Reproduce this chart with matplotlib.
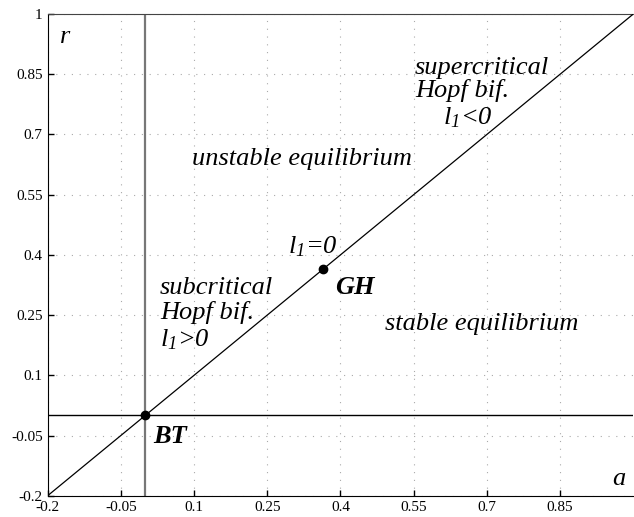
import matplotlib
matplotlib.use('Agg')
import matplotlib.pyplot as plt

plt.rcParams['font.family'] = 'Liberation Serif'
plt.rcParams['mathtext.fontset'] = 'custom'
plt.rcParams['mathtext.rm'] = 'Liberation Serif:italic'
plt.rcParams['mathtext.it'] = 'Liberation Serif:italic'

# axis ranges and ticks
lim = [-0.2, 1.0]
xticks = [-0.2, -0.05, 0.1, 0.25, 0.4, 0.55, 0.7, 0.85]
yticks = [-0.2, -0.05, 0.1, 0.25, 0.4, 0.55, 0.7, 0.85, 1.0]
xticklabels = ['-0.2', '-0.05', '0.1', '0.25', '0.4', '0.55', '0.7', '0.85']
yticklabels = ['-0.2', '-0.05', '0.1', '0.25', '0.4', '0.55', '0.7', '0.85', '1']

# Hopf curve r = a, and special points
hopf_a = [-0.2, 1.0]
hopf_r = [-0.2, 1.0]
bt = (0.0, 0.0)
gh = (0.365, 0.365)

fig = plt.figure(figsize=(6.34, 5.17), dpi=100)
ax = fig.add_axes([0.075, 0.041, 0.924, 0.932])

ax.axvline(0, color='#777777', lw=1.6, zorder=2)
ax.axhline(0, color='black', lw=1.0, zorder=2)
ax.plot(hopf_a, hopf_r, color='black', lw=0.9, zorder=3)
ax.plot([bt[0], gh[0]], [bt[1], gh[1]], 'o', color='black', ms=6, zorder=4)

ax.set_xlim(lim)
ax.set_ylim(lim)
ax.set_xticks(xticks)
ax.set_xticklabels(xticklabels)
ax.set_yticks(yticks)
ax.set_yticklabels(yticklabels)
ax.tick_params(direction='in', length=4, labelsize=11, width=1)
ax.grid(True, color='#aaaaaa', linestyle=(0, (1, 6)), lw=0.8)
ax.spines['right'].set_visible(False)
ax.spines['top'].set_color('#444444')

def px(x, y):
    # place text by pixel position from top-left of the figure
    return (x / 634.0, 1 - y / 517.0)

txt = dict(fontstyle='italic', fontsize=19, transform=fig.transFigure, va='baseline')
fig.text(*px(60, 43), 'r', **txt)
fig.text(*px(612, 485), 'a', **txt)
fig.text(*px(415, 74), 'supercritical', **txt)
fig.text(*px(415, 97), 'Hopf bif.', **txt)
fig.text(*px(443, 124), '$l_1$<0', **txt)
fig.text(*px(192, 165), 'unstable equilibrium', **txt)
fig.text(*px(385, 330), 'stable equilibrium', **txt)
fig.text(*px(160, 294), 'subcritical', **txt)
fig.text(*px(160, 319), 'Hopf bif.', **txt)
fig.text(*px(160, 346), '$l_1$>0', **txt)
fig.text(*px(288, 253), '$l_1$=0', **txt)
fig.text(*px(335, 294), 'GH', fontweight='bold', **txt)
fig.text(*px(153, 443), 'BT', fontweight='bold', **txt)

fig.savefig('out.png', dpi=100)
